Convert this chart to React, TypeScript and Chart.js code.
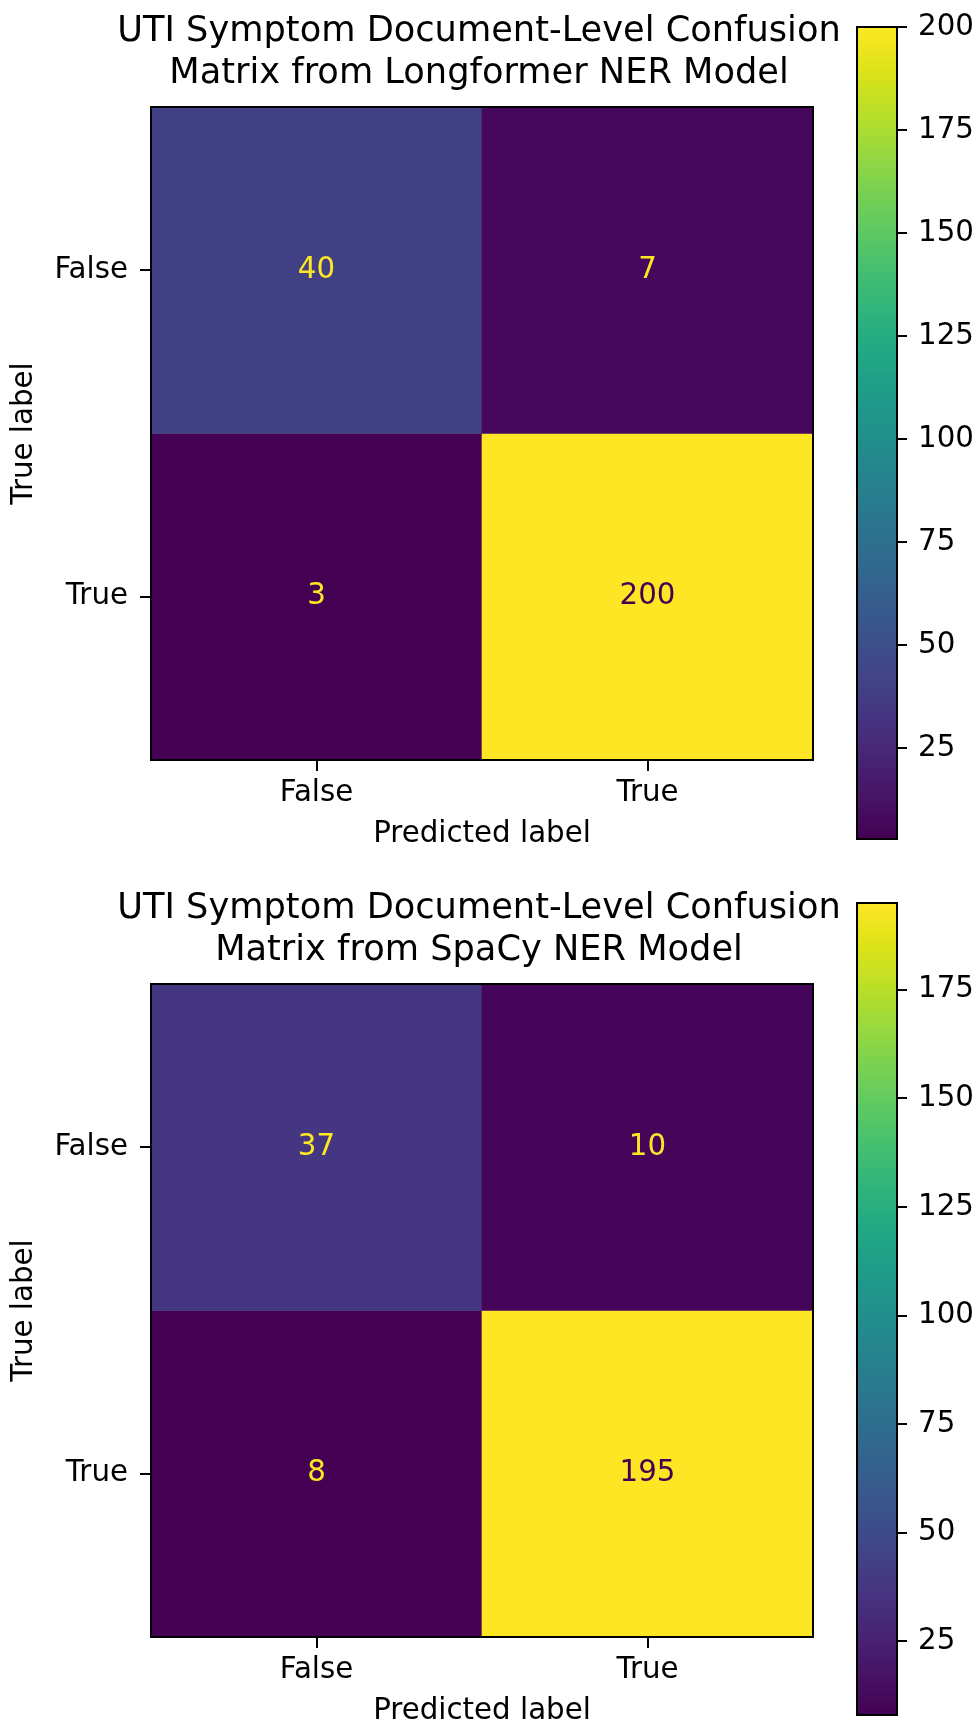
import React, { useEffect, useRef } from 'react';
import { Chart, registerables } from 'chart.js';

Chart.register(...registerables);

const FONT = 'DejaVu Sans';
const TEXT_SIZE = 29.3;
const TITLE_SIZE = 35.2;

// ---- data ----
const predictedLabels = ['False', 'True'];
const trueLabels = ['False', 'True'];
const longformerFalseRow = [40, 7];
const longformerTrueRow = [3, 200];
const spacyFalseRow = [37, 10];
const spacyTrueRow = [8, 195];
const longformerTitle = ['UTI Symptom Document-Level Confusion', 'Matrix from Longformer NER Model'];
const spacyTitle = ['UTI Symptom Document-Level Confusion', 'Matrix from SpaCy NER Model'];
const longformerColorbarTicks = [25, 50, 75, 100, 125, 150, 175, 200];
const spacyColorbarTicks = [25, 50, 75, 100, 125, 150, 175];

// viridis colormap samples
const VIRIDIS = [
  '#440154', '#471365', '#482475', '#463480', '#414487', '#3b528b', '#355f8d',
  '#2f6c8e', '#2a788e', '#25848e', '#21918c', '#1e9c89', '#22a884', '#2fb47c',
  '#44bf70', '#5ec962', '#7ad151', '#9bd93c', '#bddf26', '#dfe318', '#fde725',
];

function hexToRgb(h: string) {
  const n = parseInt(h.slice(1), 16);
  return [(n >> 16) & 255, (n >> 8) & 255, n & 255];
}

function viridis(t: number) {
  const tt = Math.max(0, Math.min(1, t));
  const pos = tt * (VIRIDIS.length - 1);
  const i = Math.min(VIRIDIS.length - 2, Math.floor(pos));
  const f = pos - i;
  const a = hexToRgb(VIRIDIS[i]);
  const b = hexToRgb(VIRIDIS[i + 1]);
  const c = a.map((v, k) => Math.round(v + (b[k] - v) * f));
  return `rgb(${c[0]},${c[1]},${c[2]})`;
}

const framePlugin = {
  id: 'frame',
  afterDatasetsDraw(chart: any) {
    const { ctx, chartArea } = chart;
    ctx.save();
    ctx.strokeStyle = '#000';
    ctx.lineWidth = 2;
    ctx.strokeRect(chartArea.left, chartArea.top, chartArea.right - chartArea.left, chartArea.bottom - chartArea.top);
    ctx.restore();
  },
};

function MatrixChart({ rows, title, canvasH }: { rows: number[][]; title: string[]; canvasH: number }) {
  const ref = useRef<HTMLCanvasElement>(null);
  useEffect(() => {
    const all = rows.flat();
    const min = Math.min(...all);
    const max = Math.max(...all);
    const thresh = (min + max) / 2;
    const datasets = rows.map((row, r) => ({
      label: trueLabels[r],
      data: row.map(() => [r - 0.5, r + 0.5]),
      backgroundColor: row.map((v) => viridis((v - min) / (max - min))),
      borderWidth: 0,
      barPercentage: 1,
      categoryPercentage: 1,
      grouped: false,
    }));
    const cellText = {
      id: 'cellText',
      afterDatasetsDraw(chart: any) {
        const ctx = chart.ctx;
        ctx.save();
        ctx.font = `${TEXT_SIZE}px "${FONT}"`;
        ctx.textAlign = 'center';
        ctx.textBaseline = 'middle';
        chart.data.datasets.forEach((_: any, i: number) => {
          const meta = chart.getDatasetMeta(i);
          meta.data.forEach((bar: any, j: number) => {
            const { x, y, base } = bar.getProps(['x', 'y', 'base'], true);
            const v = rows[i][j];
            ctx.fillStyle = v < thresh ? viridis(1) : viridis(0);
            ctx.fillText(String(v), x, (y + base) / 2);
          });
        });
        ctx.restore();
      },
    };
    const chart = new Chart(ref.current!, {
      type: 'bar',
      data: { labels: predictedLabels, datasets: datasets as any },
      plugins: [cellText, framePlugin],
      options: {
        animation: false,
        responsive: false,
        events: [],
        layout: { padding: { left: 0, right: 6, top: 0, bottom: canvasH - 852 } },
        plugins: {
          legend: { display: false },
          tooltip: { enabled: false },
          title: {
            display: true,
            text: title,
            color: '#000',
            font: { family: FONT, size: TITLE_SIZE, weight: 'normal', lineHeight: 42 / TITLE_SIZE },
            padding: { top: 11, bottom: 12 },
          },
        },
        scales: {
          x: {
            type: 'category',
            position: 'bottom',
            offset: true,
            grid: { offset: false, drawOnChartArea: false, drawTicks: true, tickLength: 11, color: '#000', lineWidth: 2 },
            border: { display: false },
            ticks: { color: '#000', padding: 5, font: { family: FONT, size: TEXT_SIZE } },
            title: { display: true, text: 'Predicted label', color: '#000', font: { family: FONT, size: TEXT_SIZE }, padding: { top: 0, bottom: 0 } },
            afterFit: (axis: any) => { axis.height = 92; },
          },
          y: {
            type: 'linear',
            position: 'left',
            min: -0.5,
            max: 1.5,
            reverse: true,
            afterBuildTicks: (axis: any) => { axis.ticks = trueLabels.map((_, i) => ({ value: i })); },
            grid: { drawOnChartArea: false, drawTicks: true, tickLength: 11, color: '#000', lineWidth: 2 },
            border: { display: false },
            ticks: { color: '#000', padding: 12, font: { family: FONT, size: TEXT_SIZE }, callback: (v: any) => trueLabels[v] },
            title: { display: true, text: 'True label', color: '#000', font: { family: FONT, size: TEXT_SIZE }, padding: { top: 6.4, bottom: 0 } },
            afterFit: (axis: any) => { axis.width = 151; },
          },
          ySpacer: {
            type: 'linear',
            position: 'right',
            display: true,
            grid: { display: false },
            border: { display: false },
            ticks: { display: false },
            afterFit: (axis: any) => { axis.width = 145; },
          },
        },
      } as any,
    });
    return () => chart.destroy();
  }, []);
  return <canvas ref={ref} width={964} height={canvasH} style={{ position: 'absolute', left: 0, top: 0, width: 964, height: canvasH }} />;
}

function ColorbarChart({ rows, ticks, cbTop, cbHeight }: { rows: number[][]; ticks: number[]; cbTop: number; cbHeight: number }) {
  const ref = useRef<HTMLCanvasElement>(null);
  useEffect(() => {
    const all = rows.flat();
    const min = Math.min(...all);
    const max = Math.max(...all);
    const chart = new Chart(ref.current!, {
      type: 'bar',
      data: {
        labels: [''],
        datasets: [
          {
            data: [[min, max]],
            borderWidth: 0,
            barPercentage: 1,
            categoryPercentage: 1,
            backgroundColor: (c: any) => {
              const ch = c.chart;
              const { ctx, chartArea, scales } = ch;
              if (!chartArea || !scales.y) return VIRIDIS[0];
              const y0 = scales.y.getPixelForValue(min);
              const y1 = scales.y.getPixelForValue(max);
              const g = ctx.createLinearGradient(0, y0, 0, y1);
              VIRIDIS.forEach((col, i) => g.addColorStop(i / (VIRIDIS.length - 1), col));
              return g;
            },
          } as any,
        ],
      },
      plugins: [framePlugin],
      options: {
        animation: false,
        responsive: false,
        events: [],
        layout: { padding: { left: 17, right: 0, top: 20 + cbTop, bottom: 900 - (20 + cbTop + cbHeight) } },
        plugins: { legend: { display: false }, tooltip: { enabled: false }, title: { display: false } },
        scales: {
          x: { type: 'category', display: false, offset: true },
          y: {
            type: 'linear',
            position: 'right',
            min,
            max,
            afterBuildTicks: (axis: any) => { axis.ticks = ticks.map((v) => ({ value: v })); },
            grid: { drawOnChartArea: false, drawTicks: true, tickLength: 10, color: '#000', lineWidth: 2 },
            border: { display: false },
            ticks: { color: '#000', padding: 11, font: { family: FONT, size: TEXT_SIZE } },
            afterFit: (axis: any) => { axis.width = 79; },
          },
        },
      } as any,
    });
    return () => chart.destroy();
  }, []);
  return <canvas ref={ref} width={136} height={900} style={{ position: 'absolute', left: 840, top: -20, width: 136, height: 900 }} />;
}

function Panel({ top, rows, title, ticks, canvasH, cbTop }: { top: number; rows: number[][]; title: string[]; ticks: number[]; canvasH: number; cbTop: number }) {
  return (
    <div style={{ position: 'absolute', left: 0, top, width: 976, height: canvasH }}>
      <MatrixChart rows={rows} title={title} canvasH={canvasH} />
      <ColorbarChart rows={rows} ticks={ticks} cbTop={cbTop} cbHeight={812} />
    </div>
  );
}

export default function App() {
  return (
    <div style={{ position: 'absolute', left: 0, top: 0, width: 976, height: 1730, overflow: 'hidden', background: '#fff' }}>
      <Panel top={0} rows={[longformerFalseRow, longformerTrueRow]} title={longformerTitle} ticks={longformerColorbarTicks} canvasH={853} cbTop={27} />
      <Panel top={877} rows={[spacyFalseRow, spacyTrueRow]} title={spacyTitle} ticks={spacyColorbarTicks} canvasH={860} cbTop={26} />
    </div>
  );
}
